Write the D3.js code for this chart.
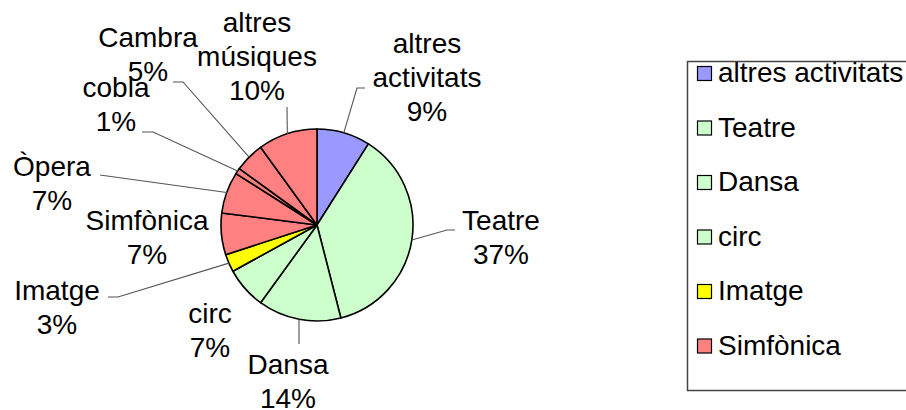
<!DOCTYPE html>
<html>
<head>
<meta charset="utf-8">
<script src="https://cdn.jsdelivr.net/npm/d3@7"></script>
<style>
  body { margin: 0; background: #fff; }
  svg { display: block; font-family: "Liberation Sans", Arial, sans-serif; }
</style>
</head>
<body>
<svg class="chart" width="906" height="410"></svg>
<script>
// slices, clockwise from 12 o'clock
const categories = ['altres activitats', 'Teatre', 'Dansa', 'circ', 'Imatge', 'Simfònica', 'Òpera', 'cobla', 'Cambra', 'altres músiques'];
const shares = [9, 37, 14, 7, 3, 7, 7, 1, 5, 10];
const fills = ['#9999ff', '#ccffcc', '#ccffcc', '#ccffcc', '#ffff00', '#ff8080', '#ff8080', '#ff8080', '#ff8080', '#ff8080'];
const labelLines = [['altres', 'activitats'], ['Teatre'], ['Dansa'], ['circ'], ['Imatge'], ['Simfònica'], ['Òpera'], ['cobla'], ['Cambra'], ['altres', 'músiques']];
const legendCount = 6; // the legend box only fits the first six

// label layout: text centre x / first baseline, and leader path (elbow, end) or null
const labelLayout = [
  { x: 427, y: 53, leader: [[357, 88], [365, 88]] },
  { x: 501, y: 230, leader: [[447, 230], [455, 230]] },
  { x: 288, y: 374, leader: [[299, 344]] },
  { x: 210, y: 323, leader: null },
  { x: 57, y: 300, leader: [[118, 297], [108, 297]] },
  { x: 147, y: 230, leader: null },
  { x: 52, y: 176, leader: [[100, 175]] },
  { x: 116, y: 97, leader: [[153, 132], [142, 132]] },
  { x: 148, y: 47, leader: [[183, 82], [173, 82]] },
  { x: 257, y: 32, leader: [[287, 107]] }
];

const cx = 317, cy = 225, radius = 96;
const lineGap = 34;

const svg = d3.select('.chart');
const rows = categories.map((name, i) => ({ name, value: shares[i], fill: fills[i], lines: labelLines[i], layout: labelLayout[i] }));

const pie = d3.pie().value(d => d.value).sort(null);
const arc = d3.arc().innerRadius(0).outerRadius(radius);
const edge = d3.arc().innerRadius(radius).outerRadius(radius);
const arcs = pie(rows);

const g = svg.append('g').attr('transform', `translate(${cx},${cy})`);

g.selectAll('path.slice')
  .data(arcs)
  .enter()
  .append('path')
  .attr('class', 'slice')
  .attr('d', arc)
  .attr('fill', d => d.data.fill)
  .attr('stroke', '#000')
  .attr('stroke-width', 1.6)
  .attr('stroke-linejoin', 'round');

// leader lines
svg.selectAll('path.leader')
  .data(arcs.filter(d => d.data.layout.leader))
  .enter()
  .append('path')
  .attr('class', 'leader')
  .attr('d', d => {
    const [ex, ey] = edge.centroid(d);
    return d3.line()([[cx + ex, cy + ey], ...d.data.layout.leader]);
  })
  .attr('fill', 'none')
  .attr('stroke', '#555')
  .attr('stroke-width', 1.1);

// labels
const labels = svg.selectAll('text.label')
  .data(rows)
  .enter()
  .append('text')
  .attr('class', 'label')
  .attr('text-anchor', 'middle')
  .attr('font-size', 28)
  .attr('fill', '#000');

labels.each(function (d) {
  const t = d3.select(this);
  const lines = d.lines.concat([`${d.value}%`]);
  lines.forEach((line, k) => {
    t.append('tspan')
      .attr('x', d.layout.x)
      .attr('y', d.layout.y + k * lineGap)
      .text(line);
  });
});

// legend
const legend = svg.append('g').attr('class', 'legend');
legend.append('rect')
  .attr('x', 687.5).attr('y', 61.5)
  .attr('width', 240).attr('height', 329)
  .attr('fill', '#fff')
  .attr('stroke', '#444')
  .attr('stroke-width', 1.5);

const legendY = d3.scalePoint()
  .domain(categories.slice(0, legendCount))
  .range([82, 354.5]);

const items = legend.selectAll('g.item')
  .data(rows.slice(0, legendCount))
  .enter()
  .append('g')
  .attr('class', 'item')
  .attr('transform', d => `translate(0,${legendY(d.name)})`);

items.append('rect')
  .attr('x', 697.5).attr('y', -15.5)
  .attr('width', 14).attr('height', 14)
  .attr('fill', d => d.fill)
  .attr('stroke', '#000')
  .attr('stroke-width', 1.2);

items.append('text')
  .attr('x', 718)
  .attr('font-size', 28)
  .text(d => d.name);
</script>
</body>
</html>
